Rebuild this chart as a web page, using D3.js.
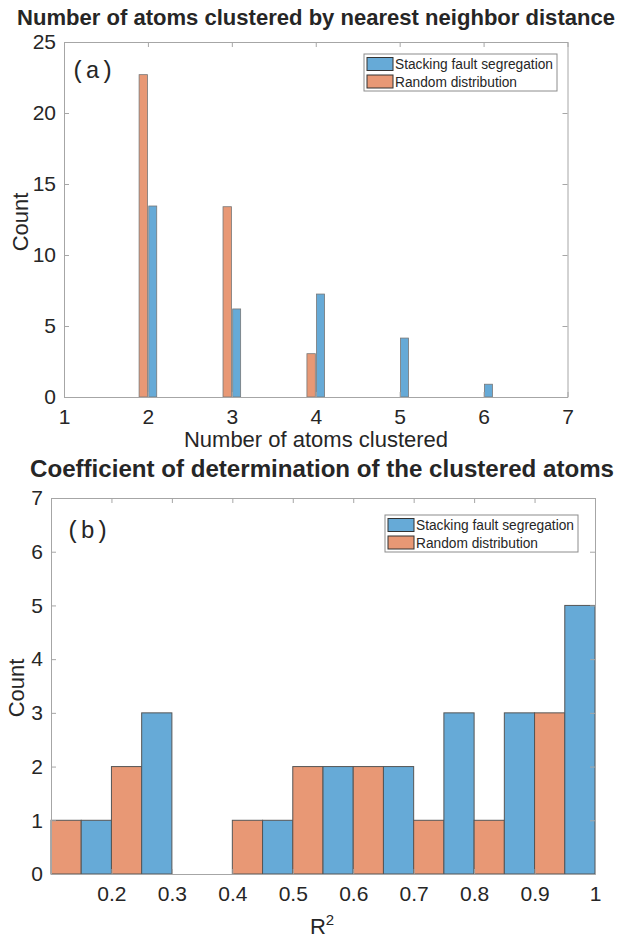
<!DOCTYPE html>
<html>
<head>
<meta charset="utf-8">
<script src="https://cdnjs.cloudflare.com/ajax/libs/d3/7.8.5/d3.min.js"></script>
<style>
  body { margin: 0; background: #fff; }
  svg text { font-family: "Liberation Sans", Arial, sans-serif; fill: #262626; }
</style>
</head>
<body>
<svg width="625" height="942"></svg>
<script>
// ---- data ----
// panel (a): mean count per cluster size
var clusterSizes = [2, 3, 4, 5, 6];
var stackingCounts = [13.45, 6.2, 7.25, 4.15, 0.9];
var randomCounts = [22.7, 13.4, 3.05, 0, 0];
var ticksA_x = [1, 2, 3, 4, 5, 6, 7];
var ticksA_y = [0, 5, 10, 15, 20, 25];

// panel (b): R^2 bins (lower edge of each 0.1 bin)
var r2Bins = [0.1, 0.2, 0.3, 0.4, 0.5, 0.6, 0.7, 0.8, 0.9];
var stackingR2 = [1, 3, 0, 1, 2, 2, 3, 3, 5];
var randomR2 = [1, 2, 0, 1, 2, 2, 1, 1, 3];
var ticksB_x = [0.2, 0.3, 0.4, 0.5, 0.6, 0.7, 0.8, 0.9, 1];
var ticksB_y = [0, 1, 2, 3, 4, 5, 6, 7];

var seriesNames = ['Stacking fault segregation', 'Random distribution'];
var blue = '#66aad7', orange = '#e89875';
var axisColor = '#a6a6a6';

var svg = d3.select('svg');

// draws a MATLAB-like box axes with inward ticks on all sides
function boxAxes(g, x, y, xt, yt, fmt) {
    var w = x.range()[1] - x.range()[0];
    var h = y.range()[0] - y.range()[1];
    var tl = 5;
    var bottom = g.append('g').attr('transform', 'translate(0,' + h + ')')
        .call(d3.axisBottom(x).tickValues(xt).tickSizeInner(-tl).tickSizeOuter(0).tickPadding(12).tickFormat(fmt));
    var top = g.append('g')
        .call(d3.axisTop(x).tickValues(xt).tickSizeInner(-tl).tickSizeOuter(0).tickFormat(''));
    var left = g.append('g')
        .call(d3.axisLeft(y).tickValues(yt).tickSizeInner(-tl).tickSizeOuter(0).tickPadding(8).tickFormat(d3.format('d')));
    var right = g.append('g').attr('transform', 'translate(' + w + ',0)')
        .call(d3.axisRight(y).tickValues(yt).tickSizeInner(-tl).tickSizeOuter(0).tickFormat(''));
    [bottom, top, left, right].forEach(function(a) {
        a.select('.domain').attr('stroke', axisColor);
        a.selectAll('.tick line').attr('stroke', axisColor);
        a.selectAll('.tick text').style('font-size', '21px').attr('fill', '#262626');
    });
}

function legend(g, lx, ly) {
    g.append('rect').attr('x', lx).attr('y', ly).attr('width', 193).attr('height', 37)
        .attr('fill', '#fff').attr('stroke', '#8c8c8c').attr('stroke-width', 1);
    [blue, orange].forEach(function(c, i) {
        g.append('rect').attr('x', lx + 3).attr('y', ly + 3.5 + i * 17.5)
            .attr('width', 26).attr('height', 13)
            .attr('fill', c).attr('stroke', '#333').attr('stroke-width', 1);
        g.append('text').attr('x', lx + 31).attr('y', ly + 15 + i * 17.5)
            .style('font-size', '14px')
            .attr('textLength', i === 0 ? 158 : 122).attr('lengthAdjust', 'spacingAndGlyphs')
            .text(seriesNames[i]);
    });
}

// ---------------- panel (a) ----------------
svg.append('text').attr('x', 316).attr('y', 25).attr('text-anchor', 'middle')
    .style('font-size', '22px').style('font-weight', 'bold').attr('fill', '#000')
    .attr('textLength', 598).attr('lengthAdjust', 'spacingAndGlyphs')
    .text('Number of atoms clustered by nearest neighbor distance');

var ga = svg.append('g').attr('transform', 'translate(64,42)');
var xa = d3.scaleLinear().domain([1, 7]).range([0, 503.5]);
var ya = d3.scaleLinear().domain([0, 25]).range([355, 0]);

clusterSizes.forEach(function(s, i) {
    var pairs = [[randomCounts[i], orange, s - 0.105, s - 0.005], [stackingCounts[i], blue, s + 0.01, s + 0.105]];
    pairs.forEach(function(p) {
        if (p[0] <= 0) return;
        ga.append('rect')
            .attr('x', xa(p[2])).attr('width', xa(p[3]) - xa(p[2]))
            .attr('y', ya(p[0])).attr('height', ya(0) - ya(p[0]))
            .attr('fill', p[1]).attr('stroke', '#777').attr('stroke-width', 0.8);
    });
});
boxAxes(ga, xa, ya, ticksA_x, ticksA_y, d3.format('d'));

ga.append('text').attr('x', 7).attr('y', 36)
    .style('font-family', '"Liberation Mono", "Courier New", monospace').style('font-size', '24px')
    .text('(a)');
legend(ga, 300, 12);

svg.append('text').attr('x', 316).attr('y', 447).attr('text-anchor', 'middle')
    .style('font-size', '22px').text('Number of atoms clustered');
svg.append('text').attr('transform', 'translate(28,222) rotate(-90)').attr('text-anchor', 'middle')
    .style('font-size', '22px').text('Count');

// ---------------- panel (b) ----------------
svg.append('text').attr('x', 322).attr('y', 477).attr('text-anchor', 'middle')
    .style('font-size', '23px').style('font-weight', 'bold').attr('fill', '#000')
    .attr('textLength', 584).attr('lengthAdjust', 'spacingAndGlyphs')
    .text('Coefficient of determination of the clustered atoms');

var gb = svg.append('g').attr('transform', 'translate(51,498)');
var xb = d3.scaleLinear().domain([0.1, 1]).range([0, 544]);
var yb = d3.scaleLinear().domain([0, 7]).range([376, 0]);

r2Bins.forEach(function(lo, i) {
    var pairs = [[randomR2[i], orange, lo, lo + 0.05], [stackingR2[i], blue, lo + 0.05, lo + 0.1]];
    pairs.forEach(function(p) {
        if (p[0] <= 0) return;
        gb.append('rect')
            .attr('x', xb(p[2])).attr('width', xb(p[3]) - xb(p[2]))
            .attr('y', yb(p[0])).attr('height', yb(0) - yb(p[0]))
            .attr('fill', p[1]).attr('stroke', '#555').attr('stroke-width', 1);
    });
});
boxAxes(gb, xb, yb, ticksB_x, ticksB_y, d3.format('~g'));

gb.append('text').attr('x', 15).attr('y', 40)
    .style('font-family', '"Liberation Mono", "Courier New", monospace').style('font-size', '24px')
    .text('(b)');
legend(gb, 334, 17);

var r2 = svg.append('text').attr('x', 322).attr('y', 934).attr('text-anchor', 'middle')
    .style('font-size', '22px');
r2.append('tspan').text('R');
r2.append('tspan').attr('dy', -9).style('font-size', '15px').text('2');
svg.append('text').attr('transform', 'translate(24,688) rotate(-90)').attr('text-anchor', 'middle')
    .style('font-size', '22px').text('Count');
</script>
</body>
</html>
